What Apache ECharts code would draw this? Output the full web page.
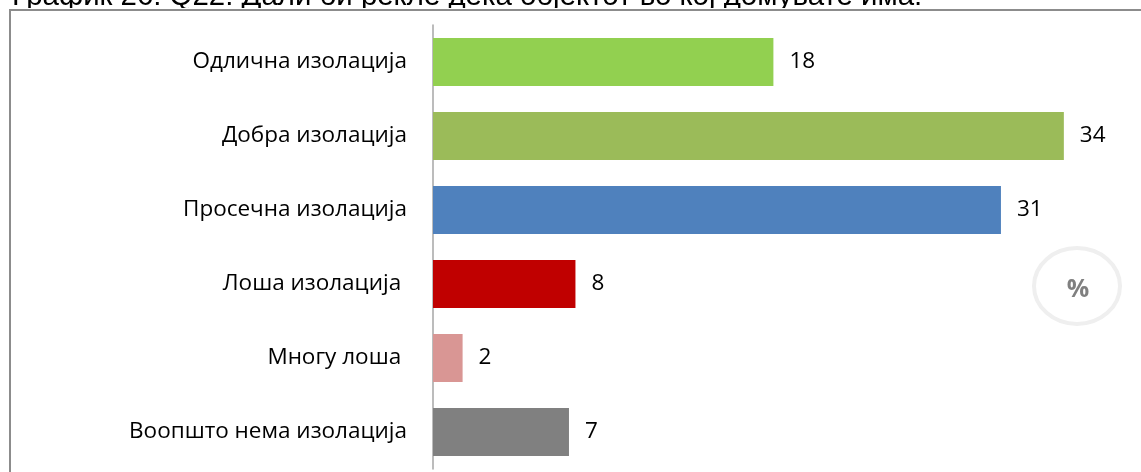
<!DOCTYPE html>
<html><head><meta charset="utf-8">
<script src="https://cdn.jsdelivr.net/npm/echarts@6/dist/echarts.min.js"></script>
<style>html,body{margin:0;padding:0;background:#fff}#c{width:1141px;height:472px}</style>
</head><body><div id="c"></div>
<script>
const titleText = 'График 26: Q22: Дали би рекле дека објектот во кој домувате има:';
const categories = ['Одлична изолација', 'Добра изолација', 'Просечна изолација', 'Лоша изолација ', 'Многу лоша ', 'Воопшто нема изолација'];
const values = [18.4, 34.1, 30.7, 7.7, 1.6, 7.35];
const colors = ['#92d050', '#9bbb59', '#4f81bd', '#c00000', '#d99694', '#808080'];
const unitText = '%';

const chart = echarts.init(document.getElementById('c'), null, {renderer: 'canvas'});
chart.setOption({
  animation: false,
  backgroundColor: '#fff',
  grid: {left: 433, right: 42, top: 25, bottom: 3, containLabel: false},
  xAxis: {type: 'value', min: 0, max: 36, show: false, splitLine: {show: false}},
  yAxis: {
    type: 'category', inverse: true, data: categories,
    axisLine: {show: true, lineStyle: {color: '#a6a6a6', width: 1.5}},
    axisTick: {show: false},
    axisLabel: {color: '#000', fontFamily: 'Open Sans', fontSize: 22.5, margin: 26}
  },
  series: [{
    type: 'bar',
    data: values.map((v, i) => ({value: v, itemStyle: {color: colors[i]}})),
    barCategoryGap: '35%',
    label: {show: true, position: 'right', distance: 16, color: '#000', fontFamily: 'Open Sans', fontSize: 22.5,
      formatter: p => Math.round(p.value)}
  }],
  graphic: [
    {type: 'text', x: 12, y: -3, z: -20, style: {text: titleText, fontFamily: 'Liberation Sans', fontSize: 29.4, fill: '#000', verticalAlign: 'middle'}},
    {type: 'rect', shape: {x: 0, y: 8, width: 1141, height: 464}, style: {fill: '#fff'}, silent: true, z: -10},
    {type: 'rect', shape: {x: 10, y: 10, width: 1200, height: 600}, style: {fill: 'none', stroke: '#8c8c8c', lineWidth: 2}, silent: true, z: -5},
    {type: 'ellipse', z: 3, shape: {cx: 1077, cy: 286, rx: 43, ry: 38}, style: {fill: 'none', stroke: '#efefef', lineWidth: 4}},
    {type: 'text', z: 3, x: 1078, y: 290, style: {text: unitText, fontFamily: 'Open Sans', fontWeight: 'bold', fontSize: 25, fill: '#808080', align: 'center', verticalAlign: 'middle'}}
  ]
});
</script></body></html>
